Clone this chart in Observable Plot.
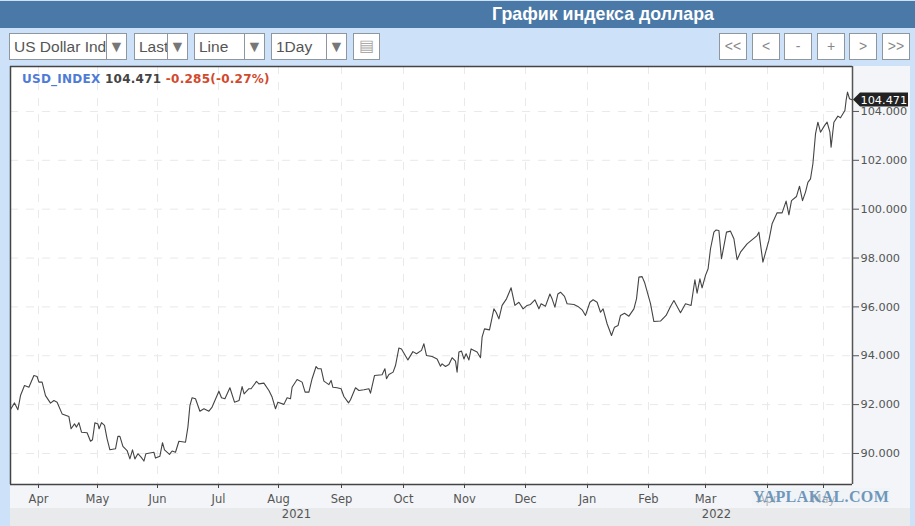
<!DOCTYPE html>
<html><head><meta charset="utf-8">
<script src="https://cdn.jsdelivr.net/npm/d3@7"></script>
<script src="https://cdn.jsdelivr.net/npm/@observablehq/plot@0.6"></script>
<style>
html,body{margin:0;padding:0;background:#cde1f8;}
#page{position:relative;width:915px;height:526px;overflow:hidden;background:#cde1f8;font-family:"Liberation Sans",Arial,sans-serif;}
#head{position:absolute;left:0;top:1px;width:915px;height:27px;background:#4a79a8;color:#fff;font-weight:bold;font-size:17.8px;line-height:27px;text-align:center;text-indent:291px;}
.panel{position:absolute;}
.box{position:absolute;top:33px;height:25px;background:#fff;border:1px solid #8f979e;box-sizing:content-box;font-size:15.5px;line-height:25px;color:#555;overflow:hidden;white-space:nowrap;}
.box span.t{position:absolute;left:4px;top:0;}
.box .drop{position:absolute;top:0;right:0;height:25px;background:#fff;border-left:1px solid #8f979e;text-align:center;color:#777;font-size:16px;}
.nav{position:absolute;top:33px;width:26px;height:25px;background:#fff;border:1px solid #8f979e;text-align:center;line-height:24px;font-size:14px;color:#888;}
#chart{position:absolute;left:0;top:60px;}
#chart svg{background:transparent;display:block;}
#legend{position:absolute;left:22px;top:72px;font:bold 12px "DejaVu Sans",sans-serif;letter-spacing:.25px;white-space:pre;}
#mark{position:absolute;left:752px;top:488px;font:bold 16px "Liberation Serif",serif;letter-spacing:.4px;color:#6f96bb;background:rgba(240,243,246,.6);padding:0 1px;}
</style></head><body>
<div id="page">
  <div class="panel" style="left:10px;top:66px;width:900px;height:442px;background:#f3f5f8"></div>
  <div class="panel" style="left:10px;top:508px;width:900px;height:18px;background:#e8eaec"></div>
  <div id="head">График индекса доллара</div>
  <div id="tools"></div>
  <div id="chart"></div>
  <div id="legend"></div>
  <div id="mark">YAPLAKAL.COM</div>
</div>
<script>
const days = [0,2,3.7,5,7,9.2,11.7,13.3,14.2,15.8,17.5,20,21.7,23.3,25.8,29.2,30.3,32,33,34.2,35.5,38.3,40,41,42.2,43.7,44.3,45.5,47,48.3,49.7,52.5,53.7,54.7,56.2,58.3,59.7,61,62.2,63.7,65.3,66.7,67.7,71.7,72.5,74.7,76,77,79.5,80.8,82.5,84.2,87.5,88.7,89.7,90.8,92.5,94.7,96.7,99.2,100.8,104.2,105.5,107.2,109.7,112,114.3,115.8,116.8,119.2,120.3,123,124.2,126.7,129.2,130.8,132.5,133.7,136.7,138.3,140,140.8,143.3,145.8,147.3,149.2,150.8,152.8,153.7,155.3,156.7,159.2,160.3,161.2,163.3,165.3,166.7,169,170,172.5,174.2,176.7,179.2,180,182,185.8,187.2,188,189.2,191.3,192.5,194.2,195.5,198.7,201.2,203,205.5,206.7,208,210.8,213.3,215,215.8,217.5,219.2,220.8,222.5,223.3,224.2,225.5,226.7,227.8,229.2,230.3,233.3,235,235.8,237,239.5,241.7,242.8,244.2,245.8,248,250.3,252.2,254.2,256.3,258.3,260,262.2,264.2,265.3,267.5,269.7,270.8,272.2,273.7,275,277,278.3,281.7,283.7,285.8,287.5,289.7,291.3,293.3,295,296.3,298.3,300.5,302,303.8,305,307,309.2,311.7,313,314.2,315.8,317,320,321.7,325,327.8,330,331.7,335,337.5,340.3,342.2,343.3,344.7,345.8,347.5,348.8,350,351.7,352.8,354.2,355.5,358,360,361.7,363.3,365,368.3,373.3,374.2,376.2,377.8,379.2,380.8,383.3,385.8,387.8,389.2,390.5,393,394.5,396,397.5,398.7,400,401.2,402.5,403.7,405,407,408.3,409.7,410.3,411.7,413.7,415,417.2,417.8,418.5,419.5,421];
const values = [91.80,92.07,91.79,92.37,92.78,92.71,93.19,93.15,92.92,92.92,92.37,92.06,92.17,92.10,91.62,91.51,91.01,91.21,91.08,91.26,90.87,90.85,90.50,90.56,91.26,91.21,91.01,91.26,91.15,90.60,90.15,90.19,90.70,90.70,90.29,90.12,89.78,90.15,89.78,89.99,89.85,89.69,89.99,90.05,89.81,89.89,90.44,90.15,89.96,90.10,90.05,90.50,90.46,91.08,91.96,92.28,92.24,91.73,91.83,91.73,91.90,92.55,92.28,92.24,92.69,92.10,92.17,92.74,92.44,92.65,92.65,92.95,92.85,92.88,92.58,92.31,91.83,92.10,92.01,92.28,92.24,92.71,93.03,92.92,92.51,92.51,93.06,93.56,93.47,93.47,92.96,92.82,92.99,92.71,92.69,92.65,92.33,92.07,92.20,92.69,92.58,92.61,92.65,92.47,93.19,93.22,93.47,93.06,93.23,93.33,93.60,94.32,94.28,93.83,94.17,94.08,94.22,94.49,94.01,93.97,93.87,93.57,93.67,93.56,93.64,93.92,93.78,93.33,94.15,94.19,93.87,94.08,93.83,94.28,94.15,93.92,94.76,95.10,95.06,95.92,95.78,95.51,96.06,96.33,96.78,96.06,96.19,95.92,96.06,96.10,96.29,95.92,96.13,96.03,96.53,96.33,95.99,96.53,96.60,96.43,96.13,96.10,96.02,95.88,95.65,96.19,96.29,96.19,95.78,95.92,95.31,94.83,95.17,95.24,95.65,95.74,95.62,95.92,96.33,97.22,97.24,97.01,96.13,95.40,95.42,95.65,96.02,96.26,95.76,96.13,96.06,97.11,96.56,97.15,96.78,97.29,97.56,98.38,99.06,99.15,99.13,97.97,99.06,99.10,98.79,97.93,98.24,98.58,98.92,99.06,97.83,98.31,98.72,99.40,99.85,99.85,100.33,99.77,100.35,100.52,100.94,100.35,100.70,101.10,101.24,101.86,103.08,103.56,103.15,103.42,103.56,103.15,102.54,103.56,103.81,103.74,104.04,104.45,104.79,104.52,104.471];
const monthDays = [14,43.5,73.5,104,134,165.5,196.5,227,257.5,288.5,319,347.5,378.5,406.5];
const monthLabels = ["Apr","May","Jun","Jul","Aug","Sep","Oct","Nov","Dec","Jan","Feb","Mar","Apr","May"];
const yTicks = [90,92,94,96,98,100,102,104];
const yearDays = [143,353];
const yearLabels = ["2021","2022"];
const lastValue = 104.471;
const selects = [["US Dollar Index",9,118,20],["Last",134,54,20],["Line",194,71,20],["1Day",271,76,20]];
const navs = [["<<",719],["<",752],["-",784],["+",817],[">",849],[">>",882]];

const tools = document.getElementById("tools");
for (const [t,l,w,d] of selects) {
  const b = document.createElement("div"); b.className="box"; b.style.left=l+"px"; b.style.width=(w-2)+"px";
  b.innerHTML = `<span class="t">${t}</span><span class="drop" style="width:${d-1}px">▼</span>`;
  tools.appendChild(b);
}
const ic = document.createElement("div"); ic.className="nav"; ic.style.left="353px"; ic.style.width="25px"; ic.style.color="#aaa"; ic.style.fontSize="16px"; ic.textContent="▤"; tools.appendChild(ic);
for (const [t,l] of navs) {
  const b = document.createElement("div"); b.className="nav"; b.style.left=l+"px"; b.textContent=t; tools.appendChild(b);
}
document.getElementById("legend").innerHTML =
  `<span style="color:#4f7bd6">USD_INDEX</span> <span style="color:#444">104.471</span> <span style="color:#d2492c">-0.285(-0.27%)</span>`;

const rows = days.map((d,i)=>({d, v:values[i]}));
const font = "'DejaVu Sans',sans-serif";
const priceTag = (index, {x, y}) => {
  const g = document.createElementNS("http://www.w3.org/2000/svg","path");
  g.setAttribute("d", `M${x(421)+1},${y(lastValue)} l7,-7 h48 v14 h-48 z`);
  g.setAttribute("fill", "#222");
  return g;
};
const chart = Plot.plot({
  width: 915, height: 466,
  marginLeft: 10, marginRight: 63, marginTop: 6, marginBottom: 42,
  style: {background:"transparent", fontFamily:font},
  x: {type:"linear", domain:[0,421], range:[10,852]},
  y: {domain:[88.73,105.84]},
  marks: [
    Plot.rect([0],{x1:0,x2:421,y1:88.73,y2:105.84,fill:"#fff"}),
    Plot.gridX(monthDays,{stroke:"#e9e9e9",strokeOpacity:1,strokeDasharray:"8,8"}),
    Plot.gridY(yTicks,{stroke:"#e9e9e9",strokeOpacity:1,strokeDasharray:"8,8"}),
    Plot.axisX({ticks:monthDays, tickFormat:(d,i)=>monthLabels[monthDays.indexOf(d)], label:null, tickSize:4, tickPadding:6, fontSize:11.5, stroke:"#444", fill:"#555", anchor:"bottom"}),
    Plot.axisY({ticks:yTicks, tickFormat:d3.format(".3f"), label:null, tickSize:6, tickPadding:2, fontSize:11.3, stroke:"#555", fill:"#555", anchor:"right"}),
    Plot.line(rows,{x:"d",y:"v",stroke:"#444",strokeWidth:1.1}),
    Plot.ruleY([88.73],{stroke:"#444",strokeWidth:1.5}),
    Plot.ruleY([105.84],{stroke:"#444",strokeWidth:1.5}),
    Plot.ruleX([0],{stroke:"#444",strokeWidth:1.5}),
    Plot.ruleX([421],{stroke:"#555",strokeWidth:1.5}),
    Plot.text(yearLabels,{x:(d,i)=>yearDays[i],frameAnchor:"bottom",dy:33,text:d=>d,fontSize:11.5,fill:"#555"}),
    priceTag,
    Plot.text([lastValue],{x:()=>421,y:d=>d,text:d=>d3.format(".3f")(d),dx:8,textAnchor:"start",fontSize:11.3,fill:"#fff"})
  ]
});
document.getElementById("chart").appendChild(chart);
</script>
</body></html>
